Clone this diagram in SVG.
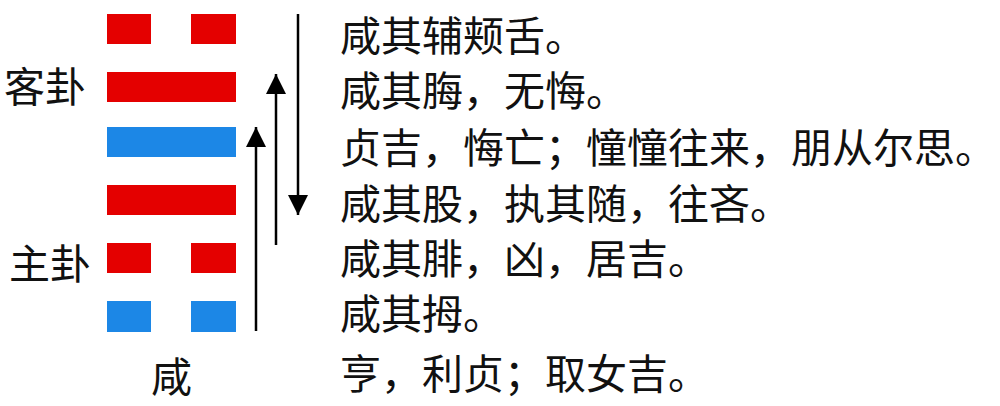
<svg xmlns="http://www.w3.org/2000/svg" width="1000" height="406" viewBox="0 0 1000 406">
<style>
.yang{fill:#e40000}
.yin{fill:#1c87e6}
.t{font-family:"Noto Sans CJK SC","Noto Sans CJK TC",sans-serif;font-size:41px;fill:#111}
.arr{stroke:#000;stroke-width:2.5;fill:none}
</style>
<defs>
<marker id="ah" viewBox="0 0 20 22" refX="20" refY="11" markerWidth="20" markerHeight="22" markerUnits="userSpaceOnUse" orient="auto">
<path d="M0,1 L20,11 L0,21 Z" fill="#000"/>
</marker>
</defs>
<rect width="1000" height="406" fill="#fff"/>
<g id="line6"><rect class="yang" x="107" y="14" width="44" height="30"/><rect class="yang" x="191" y="14" width="45" height="30"/></g>
<g id="line5"><rect class="yang" x="107" y="72" width="129" height="30"/></g>
<g id="line4"><rect class="yin" x="107" y="127" width="129" height="30"/></g>
<g id="line3"><rect class="yang" x="107" y="185" width="129" height="30"/></g>
<g id="line2"><rect class="yang" x="107" y="243" width="44" height="30"/><rect class="yang" x="191" y="243" width="45" height="30"/></g>
<g id="line1"><rect class="yin" x="107" y="301" width="44" height="31"/><rect class="yin" x="191" y="301" width="45" height="31"/></g>
<g id="labels">
<text class="t" x="4" y="102" font-size="42">客卦</text>
<text class="t" x="9" y="279" font-size="42">主卦</text>
<text class="t" x="151" y="392" font-size="42">咸</text>
</g>
<g id="connectors">
<line class="arr" x1="298" y1="14" x2="298" y2="215" marker-end="url(#ah)"/>
<line class="arr" x1="276" y1="245" x2="276" y2="74" marker-end="url(#ah)"/>
<line class="arr" x1="256" y1="331" x2="256" y2="127" marker-end="url(#ah)"/>
</g>
<g id="texts">
<text class="t" x="340" y="51">咸其辅颊舌。</text>
<text class="t" x="340" y="106">咸其脢，无悔。</text>
<text class="t" x="340" y="163">贞吉，悔亡；憧憧往来，朋从尔思。</text>
<text class="t" x="340" y="219">咸其股，执其随，往吝。</text>
<text class="t" x="340" y="274">咸其腓，凶，居吉。</text>
<text class="t" x="340" y="329">咸其拇。</text>
<text class="t" x="340" y="389">亨，利贞；取女吉。</text>
</g>
</svg>
